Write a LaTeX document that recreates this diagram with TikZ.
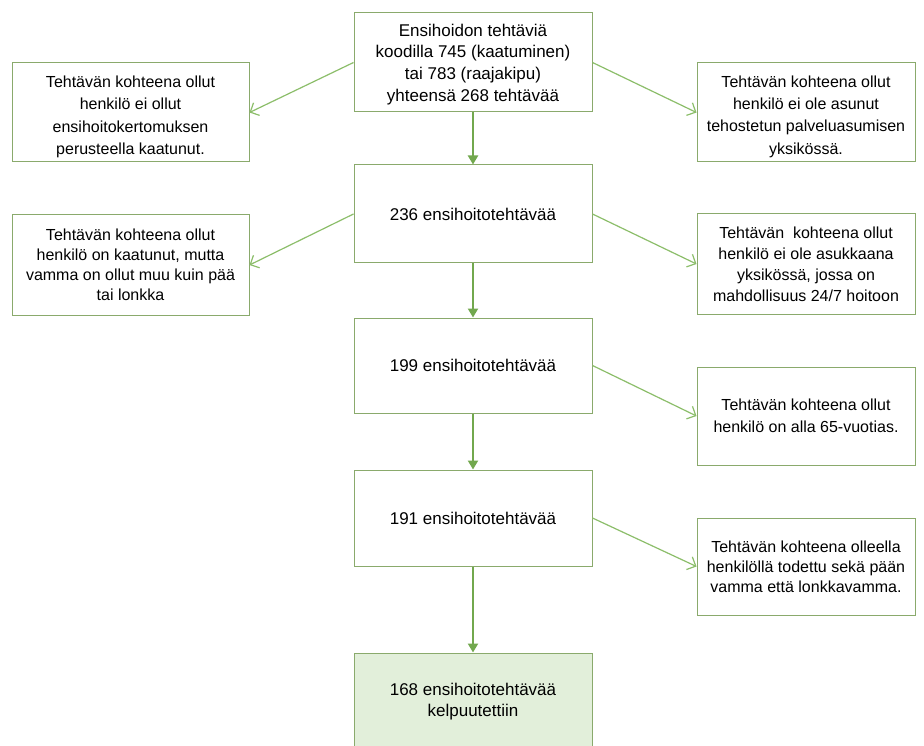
\documentclass[tikz,border=0pt]{standalone}
\usepackage{fontspec}
\setmainfont{Liberation Sans}
\usetikzlibrary{arrows.meta}
\definecolor{boxline}{HTML}{8AAA6C}
\definecolor{flow}{HTML}{72A84E}
\definecolor{side}{HTML}{8CBE6A}
\definecolor{donefill}{HTML}{E2EFDA}
% invisible strut that pushes the first text line down a little
\newcommand\firstlinegap[1]{\rule{0pt}{#1}}
\tikzset{
  stepbox/.style={draw=boxline, line width=1pt, fill=white, align=center,
    inner sep=2pt, font=\fontsize{17}{21.7}\selectfont},
  mainbox/.style={stepbox, minimum width=238pt, minimum height=98pt},
  leftbox/.style={stepbox, minimum width=237pt, minimum height=99pt,
    font=\fontsize{16}{#1}\selectfont},
  rightbox/.style={stepbox, minimum width=218pt, minimum height=98pt,
    font=\fontsize{16}{#1}\selectfont},
  leftbox/.default=22,
  rightbox/.default=22,
  flowarrow/.style={draw=flow, line width=2.6pt,
    -{Triangle[length=9pt,width=10pt]}},
  sidearrow/.style={draw=side, line width=1.2pt,
    -{Straight Barb[length=7pt,width=14pt,line width=1.2pt]}}
}
\begin{document}
\begin{tikzpicture}[x=1pt,y=-1pt]
\useasboundingbox (0,0) rectangle (924,746);
\fill[white] (0,0) rectangle (924,746);

% central chain
\node[mainbox, minimum height=99pt] (b1) at (473,62.5)
  {\firstlinegap{16.2pt}Ensihoidon tehtäviä\\koodilla 745 (kaatuminen)\\tai 783 (raajakipu)\\yhteensä 268 tehtävää};
\node[mainbox] (b2) at (473,214) {236 ensihoitotehtävää};
\node[mainbox, minimum height=95pt] (b3) at (473,365.5) {199 ensihoitotehtävää};
\node[mainbox, minimum height=96pt] (b4) at (473,518) {191 ensihoitotehtävää};
\node[mainbox, fill=donefill, minimum height=97pt] (b5) at (473,701.5)
  {168 ensihoitotehtävää\\kelpuutettiin};

% excluded cases, left column
\node[leftbox=22.3] (l1) at (130.5,112.5)
  {\firstlinegap{20.5pt}Tehtävän kohteena ollut\\henkilö ei ollut\\ensihoitokertomuksen\\perusteella kaatunut.};
\node[leftbox=20, minimum height=100pt] (l2) at (130.5,265)
  {Tehtävän kohteena ollut\\henkilö on kaatunut, mutta\\vamma on ollut muu kuin pää\\tai lonkka};

% excluded cases, right column
\node[rightbox=22.3, minimum height=99pt] (r1) at (806,112.5)
  {\firstlinegap{20pt}Tehtävän kohteena ollut\\henkilö ei ole asunut\\tehostetun palveluasumisen\\yksikössä.};
\node[rightbox=21, minimum height=100pt] (r2) at (806,264)
  {Tehtävän\ \ kohteena ollut\\henkilö ei ole asukkaana\\yksikössä, jossa on\\mahdollisuus 24/7 hoitoon};
\node[rightbox=22] (r3) at (806,416)
  {Tehtävän kohteena ollut\\henkilö on alla 65-vuotias.};
\node[rightbox=20, minimum height=97pt] (r4) at (806,566.5)
  {Tehtävän kohteena olleella\\henkilöllä todettu sekä pään\\vamma että lonkkavamma.};

% main flow
\draw[flowarrow] (b1) -- (b2);
\draw[flowarrow] (b2) -- (b3);
\draw[flowarrow] (b3) -- (b4);
\draw[flowarrow] (b4) -- (b5);

% exclusions
\draw[sidearrow] (b1.west) -- (l1.east);
\draw[sidearrow] (b1.east) -- (r1.west);
\draw[sidearrow] (b2.west) -- (l2.east);
\draw[sidearrow] (b2.east) -- (r2.west);
\draw[sidearrow] (b3.east) -- (r3.west);
\draw[sidearrow] (b4.east) -- (r4.west);
\end{tikzpicture}
\end{document}
